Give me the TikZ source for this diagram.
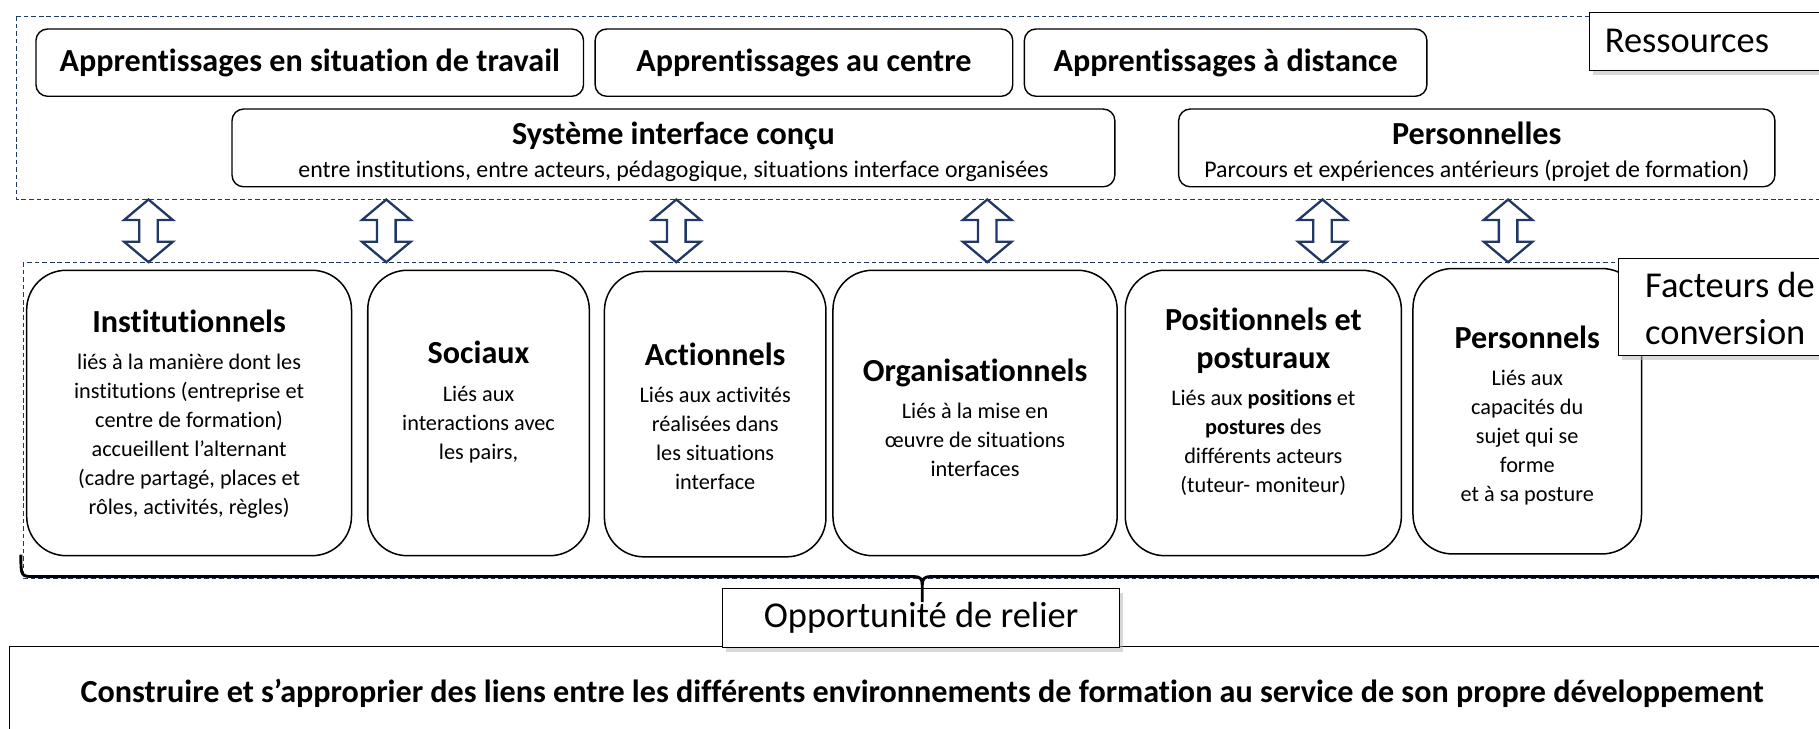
\documentclass[tikz,border=0pt]{standalone}
\usepackage{fontspec}
\setmainfont{Carlito}[Ligatures=NoCommon]
\usetikzlibrary{shapes.arrows,shadows}
\definecolor{navy}{RGB}{32,56,100}
\begin{document}
\begin{tikzpicture}[x=1pt,y=-1pt,
  topbox/.style={draw, line width=1.2pt, rounded corners=10pt, fill=white, inner sep=0pt, minimum height=58pt},
  midbox/.style={draw, line width=1.2pt, rounded corners=10pt, fill=white, inner sep=0pt, minimum height=67pt},
  lowbox/.style={draw, line width=1.3pt, rounded corners=34pt, fill=white, inner sep=0pt, minimum height=246pt},
  tagbox/.style={draw, line width=0.9pt, fill=white, inner sep=0pt, drop shadow={shadow xshift=3pt,shadow yshift=-4pt,fill=black!30}},
  zone/.style={draw=navy, line width=0.9pt, dash pattern=on 4pt off 2.5pt},
  link/.style={double arrow, draw=navy, line width=2pt, fill=white, rotate=90, minimum height=54pt, inner sep=7pt, double arrow head extend=13pt, double arrow tip angle=100},
  ttl/.style={font=\fontsize{27.7}{33}\selectfont\bfseries},
  body/.style={align=center, inner sep=0pt, font=\fontsize{19.2}{25}\selectfont},
  sub/.style={align=center, inner sep=0pt, font=\fontsize{20.6}{28}\selectfont},
  tagtext/.style={align=left, inner sep=0pt, font=\fontsize{31.4}{40}\selectfont}
]
\newcommand{\ttlfont}{\fontsize{27.7}{33}\selectfont\bfseries}
\useasboundingbox (0,0) rectangle (1568,628);
\fill[white] (0,0) rectangle (1568,628);

% Ressources zone
\draw[zone] (14,14) rectangle (1600,172);
\node[topbox, ttl, minimum width=472pt] (b1) at (267,54) {Apprentissages en situation de travail};
\node[topbox, ttl, minimum width=360pt] (b2) at (693,54) {Apprentissages au centre};
\node[topbox, ttl, minimum width=347pt] (b3) at (1056.5,54) {Apprentissages à distance};
\node[midbox, minimum width=761pt] (sys) at (580.5,127.5) {};
\node[sub] (sysT) at (580.5,131) {{\ttlfont Système interface conçu}\\entre institutions, entre acteurs, pédagogique, situations interface organisées};
\node[midbox, minimum width=514pt] (pers) at (1273,127.5) {};
\node[sub] (persT) at (1273,131) {{\ttlfont Personnelles}\\Parcours et expériences antérieurs (projet de formation)};
\node[tagbox, tagtext, anchor=north west, text width=189pt, inner xsep=13pt, minimum height=50pt] (res) at (1370,10) {Ressources};

% Facteurs zone
\draw[zone] (20,226) rectangle (1600,499);

\foreach \i/\x in {1/128,2/333,3/583,4/851,5/1140,6/1300}{
  \node[link] (arr\i) at (\x,199) {};
}

\node[lowbox, minimum width=280pt] (inst) at (163,356) {};
\node[body] (instT) at (163,357) {{\ttlfont Institutionnels}\\[7pt]liés à la manière dont les\\institutions (entreprise et\\centre de formation)\\accueillent l’alternant\\(cadre partagé, places et\\rôles, activités, règles)};
\node[lowbox, minimum width=191pt] (soc) at (412.5,356) {};
\node[body] (socT) at (412.5,346.5) {{\ttlfont Sociaux}\\[7pt]Liés aux\\interactions avec\\les pairs,};
\node[lowbox, minimum width=191pt] (act) at (616.5,357) {};
\node[body] (actT) at (616.5,359) {{\ttlfont Actionnels}\\[7pt]Liés aux activités\\réalisées dans\\les situations\\interface};
\node[lowbox, minimum width=245pt] (org) at (840.5,356) {};
\node[body] (orgT) at (840.5,360) {{\ttlfont Organisationnels}\\[7pt]Liés à la mise en\\œuvre de situations\\interfaces};
\node[lowbox, minimum width=238pt] (pos) at (1089,356) {};
\node[body] (posT) at (1089,346.5) {{\ttlfont Positionnels et}\\[8pt]{\ttlfont posturaux}\\[7pt]Liés aux \textbf{positions} et\\\textbf{postures} des\\différents acteurs\\(tuteur- moniteur)};
\node[lowbox, minimum width=197pt] (prs) at (1316.5,354.5) {};
\node[body] (prsT) at (1316.5,358) {{\ttlfont Personnels}\\[7pt]Liés aux\\capacités du\\sujet qui se\\forme\\et à sa posture};

\node[tagbox, minimum width=185pt, minimum height=84pt, anchor=north west] (fac) at (1395,222) {};
\node[tagtext, anchor=west] (facT) at (1418,266) {Facteurs de\\conversion};

% goal
\node[draw, line width=0.9pt, anchor=north west, minimum width=1600pt, minimum height=120pt, inner sep=0pt] (goal) at (8,557) {};
\node[inner sep=0pt, font=\fontsize{27.7}{32}\selectfont\bfseries] (goalT) at (795,598) {Construire et s’approprier des liens entre les différents environnements de formation au service de son propre développement};
\node[tagbox, tagtext, minimum width=342pt, minimum height=51pt, align=center] (opp) at (794,532.5) {Opportunité de relier};
\coordinate (tip) at (795,519);

% brace
\draw[line width=2.5pt] (18,478) .. controls (18,497) .. (30,497) -- (788,497) .. controls (793,497) and (795,499) .. (795,504) -- (tip);
\draw[line width=2.5pt] (795,504) .. controls (795,499) and (797,497) .. (802,497) -- (1600,497);
\end{tikzpicture}
\end{document}
